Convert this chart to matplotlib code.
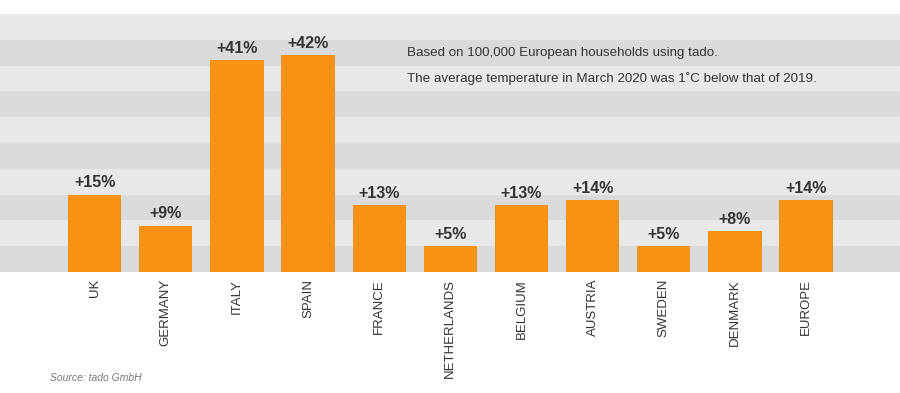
import matplotlib
matplotlib.use("Agg")
import matplotlib.pyplot as plt

countries = ["UK", "GERMANY", "ITALY", "SPAIN", "FRANCE", "NETHERLANDS",
             "BELGIUM", "AUSTRIA", "SWEDEN", "DENMARK", "EUROPE"]
increase_pct = [15, 9, 41, 42, 13, 5, 13, 14, 5, 8, 14]

note_lines = ["Based on 100,000 European households using tado.",
              "The average temperature in March 2020 was 1\u02daC below that of 2019."]
source_text = "Source: tado GmbH"

plt.rcParams['font.family'] = ['Liberation Sans', 'DejaVu Sans']

fig = plt.figure(figsize=(9, 3.93), dpi=100)
ax = fig.add_axes([0, (393 - 272) / 393, 1, (272 - 14) / 393])

ymax = 50
step = 5
for i, lo in enumerate(range(0, ymax, step)):
    color = '#d9dadc' if i % 2 == 0 else '#e8e8e8'
    ax.axhspan(lo, lo + step, color=color, lw=0, zorder=0)

x = list(range(len(countries)))
bars = ax.bar(x, increase_pct, width=0.75, color='#F79214', zorder=2)
for xi, v in zip(x, increase_pct):
    ax.text(xi, v + 0.8, f"+{v}%", ha='center', va='bottom',
            fontsize=11.5, fontweight='bold', color='#333333', zorder=3)

ax.set_xlim(-1.33, 11.32)
ax.set_ylim(0, ymax)
ax.set_xticks(x)
ax.set_xticklabels(countries, rotation=90, fontsize=9.5, color='#333333')
ax.tick_params(axis='x', length=0, pad=5)
ax.set_yticks([])
for s in ax.spines.values():
    s.set_visible(False)

ax.text(407 / 900, 1 - (53 - 14) / 258, note_lines[0], transform=ax.transAxes,
        fontsize=9.6, color='#333333', va='center', ha='left')
ax.text(407 / 900, 1 - (79 - 14) / 258, note_lines[1], transform=ax.transAxes,
        fontsize=9.6, color='#333333', va='center', ha='left')

fig.text(50 / 900, 1 - 378 / 393, source_text, fontsize=7.5, style='italic',
         color='#777777', va='center', ha='left')

fig.savefig("out.png", dpi=100)
